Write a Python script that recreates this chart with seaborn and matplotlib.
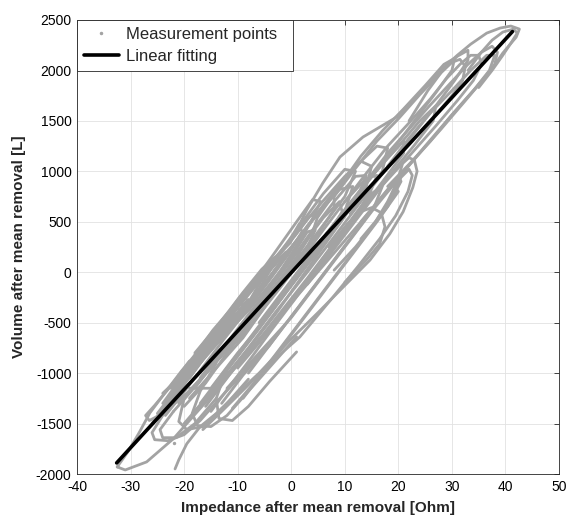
import matplotlib
matplotlib.use("Agg")
import matplotlib.pyplot as plt
import seaborn as sns
import pandas as pd
from matplotlib.lines import Line2D

# ---------------- data ----------------
x_ticks = [-40, -30, -20, -10, 0, 10, 20, 30, 40, 50]
y_ticks = [-2000, -1500, -1000, -500, 0, 500, 1000, 1500, 2000, 2500]
series_labels = ["Measurement points", "Linear fitting"]
x_label = "Impedance after mean removal [Ohm]"
y_label = "Volume after mean removal [L]"

fit_x = [-32.6, 41.3]
fit_y = [-1890, 2385]

stray_x = [-21.9]
stray_y = [-1693]

trace_01 = [(-32.5, -1930), (-30.5, -1780), (-28.5, -1600), (-26.4, -1395), (-24.5, -1260),
            (-23.2, -1167), (-20.5, -980), (-18.3, -840), (-14.6, -573), (-11.4, -375),
            (-9.6, -246), (-5.3, 22), (-0.2, 290), (2.9, 617), (5.9, 884), (9.1, 1142),
            (13.4, 1340), (19.7, 1538), (24.0, 1780), (28.5, 2030), (31.0, 2150),
            (33.5, 2260), (36.5, 2370), (39.0, 2420), (41.0, 2440), (42.6, 2410),
            (42.0, 2330), (39.5, 2172), (37.3, 2004), (34.5, 1830), (30.0, 1560),
            (25.0, 1250), (20.0, 930), (14.0, 560), (8.0, 190), (2.0, -180), (-4.0, -550),
            (-10.0, -920), (-16.0, -1290), (-22.0, -1650), (-27.0, -1880), (-31.0, -1960),
            (-32.5, -1930)]
trace_02 = [(-21.7, -1950), (-21.0, -1860), (-19.5, -1700), (-17.0, -1530), (-14.0, -1400),
            (-11.4, -1267), (-6.0, -1000), (-0.2, -672), (5.0, -400), (10.4, -110),
            (14.7, 120), (18.4, 380), (20.9, 600), (22.7, 840), (23.5, 1000), (23.0, 1110),
            (22.0, 1135), (20.8, 1080), (19.8, 900), (18.0, 700), (15.5, 480), (12.0, 250),
            (8.0, 20)]
trace_03 = [(-16.5, -1560), (-13.0, -1380), (-9.0, -1170), (-3.5, -880), (1.6, -642),
            (7.8, -246), (12.5, 60), (16.5, 330), (19.5, 560), (21.8, 800), (22.6, 960),
            (22.0, 1020), (20.5, 940), (18.5, 720), (16.0, 520), (13.0, 330)]
trace_04 = [(7.0, 250), (10.5, 480), (13.0, 600), (15.0, 640), (16.8, 590), (17.5, 450),
            (16.5, 280), (14.0, 120), (10.0, -100)]
trace_05 = [(-19.0, -880), (-22.5, -1130), (-25.5, -1320), (-27.2, -1420), (-26.5, -1470),
            (-24.0, -1400), (-19.5, -1200), (-15.0, -950), (-10.0, -650)]
trace_06 = [(-17.0, -820), (-21.0, -1150), (-24.0, -1420), (-26.0, -1590), (-25.5, -1660),
            (-23.0, -1670), (-20.0, -1610), (-17.0, -1470), (-13.5, -1260), (-9.0, -1000),
            (-4.0, -720)]
trace_07 = [(-14.0, -900), (-17.0, -1180), (-18.5, -1400), (-17.5, -1520), (-15.0, -1530),
            (-12.0, -1420), (-8.0, -1180), (-3.0, -880), (1.0, -640)]
trace_08 = [(-12.0, -950), (-14.0, -1250), (-13.5, -1450), (-11.0, -1470), (-8.0, -1330),
            (-4.0, -1080), (1.0, -790)]
trace_09 = [(10.0, 700), (14.0, 980), (18.0, 1250), (22.0, 1480), (26.0, 1720), (29.0, 1920),
            (31.5, 2060), (33.5, 2150), (35.0, 2150), (35.5, 2060), (34.0, 1900), (31.0, 1700),
            (27.0, 1450), (22.0, 1150), (17.0, 860), (12.0, 560)]
trace_10 = [(14.0, 900), (18.0, 1180), (22.0, 1420), (26.0, 1660), (30.0, 1890), (33.0, 2060),
            (35.5, 2180), (37.5, 2240), (38.5, 2180), (38.0, 2060), (36.0, 1920), (32.5, 1700),
            (28.0, 1420), (23.0, 1120), (18.0, 820), (13.0, 500)]
trace_11 = [(22.0, 1500), (25.5, 1800), (28.0, 1980), (30.0, 2080), (31.5, 2110), (32.5, 2040),
            (32.0, 1900), (30.0, 1750), (27.0, 1560)]
trace_12 = [(33.0, 2000), (35.5, 2180), (37.5, 2300), (39.5, 2380), (41.5, 2410), (42.2, 2370),
            (41.0, 2270), (39.5, 2150), (37.5, 2000), (35.0, 1830)]
trace_13 = [(-25.0, -1400), (-20.0, -1050), (-15.0, -700), (-10.0, -350), (-5.0, 0), (0.0, 330),
            (5.0, 650), (10.0, 950), (13.0, 1100), (15.0, 1050), (14.0, 850), (9.0, 480),
            (4.0, 150), (-1.0, -200), (-6.0, -560), (-11.0, -900), (-16.0, -1250), (-20.0, -1500)]
trace_14 = [(-22.0, -1250), (-17.0, -900), (-12.0, -560), (-7.0, -250), (-2.0, 100), (3.0, 460),
            (8.0, 800), (12.0, 1050), (16.0, 1250), (18.0, 1230), (17.0, 1000), (13.0, 700),
            (8.0, 350), (3.0, 0), (-3.0, -400), (-8.0, -750), (-13.0, -1080), (-18.0, -1380)]
trace_15 = [(-20.0, -1000), (-13.0, -650), (-8.0, -300), (-4.0, 60), (1.0, 420), (6.0, 780),
            (10.0, 1020), (12.0, 1000), (10.0, 750), (5.0, 400), (0.0, 50), (-5.0, -300),
            (-10.0, -650), (-16.0, -1000), (-21.0, -1300)]
trace_16 = [(-18.0, -800), (-12.0, -420), (-6.0, -100), (0.0, 250), (5.0, 580), (9.0, 820),
            (11.5, 850), (10.0, 600), (5.5, 250), (0.5, -100), (-4.5, -450), (-10.0, -800),
            (-15.0, -1150), (-19.0, -1150)]
trace_17 = [(-24.0, -1200), (-20.0, -1000), (-16.0, -780), (-11.0, -450), (-6.0, -200),
            (-2.0, 100), (-1.0, 200), (-3.0, 100), (-7.0, -250), (-12.0, -600), (-17.0, -900),
            (-22.0, -1180)]
trace_18 = [(-8.0, -1000), (-3.0, -650), (2.0, -300), (7.0, 50), (12.0, 400), (17.0, 750),
            (20.0, 950), (20.5, 900), (18.0, 650), (13.0, 300), (8.0, -50), (3.0, -400),
            (-2.0, -750), (-7.0, -1100), (-11.0, -1350)]
trace_19 = [(-12.0, -1150), (-6.0, -800), (0.0, -450), (5.0, -100), (10.0, 250), (15.0, 600),
            (19.0, 860), (20.0, 800), (16.0, 500), (11.0, 150), (6.0, -200), (1.0, -550),
            (-4.0, -900), (-9.0, -1250)]
trace_20 = [(5.0, 550), (9.0, 850), (13.0, 1150), (17.0, 1400), (21.0, 1620), (25.0, 1850),
            (28.5, 2060), (30.5, 2120), (30.0, 2000), (27.0, 1780), (23.0, 1500), (19.0, 1220),
            (15.0, 950), (10.5, 650), (6.5, 380)]
trace_21 = [(-21.0, -1100), (-16.0, -820), (-12.0, -600), (-8.0, -380), (-4.0, -120), (0.0, 150),
            (3.0, 400), (4.5, 420), (3.0, 250), (-1.0, -50), (-5.0, -350), (-9.0, -650),
            (-14.0, -950), (-19.0, -1250)]
trace_22 = [(-15.0, -640), (-10.0, -300), (-6.5, -60), (-3.0, 200), (1.0, 500), (4.0, 720),
            (5.5, 700), (3.5, 480), (0.0, 180), (-4.0, -150), (-8.0, -450), (-13.0, -800),
            (-17.0, -1050)]
trace_23 = [(-23.0, -1250), (-19.0, -950), (-15.0, -680), (-11.0, -420), (-7.0, -160),
            (-3.0, 120), (1.0, 380), (3.5, 560), (5.0, 560), (4.0, 400), (1.0, 150), (-3.0, -130),
            (-7.0, -400), (-11.0, -680), (-15.0, -950), (-19.0, -1200), (-22.0, -1380)]
trace_24 = [(-19.0, -1050), (-15.0, -760), (-10.0, -460), (-6.0, -180), (-2.0, 90), (2.0, 380),
            (6.0, 660), (8.0, 760), (8.0, 620), (5.0, 380), (1.0, 100), (-3.0, -200), (-7.0, -480),
            (-12.0, -800), (-16.0, -1100), (-20.0, -1330)]
trace_25 = [(-17.0, -1050), (-12.0, -700), (-8.0, -420), (-4.0, -150), (0.0, 120), (4.0, 420),
            (8.0, 700), (12.0, 950), (14.0, 960), (12.5, 760), (9.0, 480), (5.0, 180), (1.0, -120),
            (-3.0, -420), (-8.0, -760), (-12.0, -1050), (-16.0, -1330)]
trace_26 = [(-26.0, -1500), (-22.0, -1200), (-18.0, -930), (-14.0, -650), (-10.0, -400),
            (-8.0, -270), (-9.0, -330), (-13.0, -620), (-17.0, -900), (-21.0, -1180),
            (-25.0, -1450)]
trace_27 = [(-10.0, -700), (-6.0, -420), (-2.0, -150), (2.0, 130), (6.0, 420), (10.0, 700),
            (14.0, 930), (16.0, 960), (14.5, 760), (10.5, 470), (6.5, 180), (2.5, -110),
            (-1.5, -400), (-6.0, -700), (-10.0, -950)]
trace_28 = [(-14.0, -1150), (-9.0, -850), (-5.0, -600), (-1.0, -330), (3.0, -60), (7.0, 220),
            (11.0, 500), (15.0, 780), (17.0, 850), (15.5, 650), (12.0, 400), (8.0, 120),
            (4.0, -160), (0.0, -440), (-4.0, -720), (-9.0, -1020), (-13.0, -1300)]
trace_29 = [(8.0, 750), (12.0, 1030), (16.0, 1300), (20.0, 1520), (24.0, 1760), (28.0, 1980),
            (31.0, 2140), (33.0, 2200), (33.0, 2100), (30.5, 1900), (27.0, 1650), (23.0, 1380),
            (19.0, 1110), (15.0, 840), (11.0, 580)]
trace_30 = [(18.0, 1050), (22.0, 1330), (26.0, 1580), (30.0, 1800), (33.5, 2000), (36.5, 2150),
            (38.0, 2150), (37.0, 2000), (34.0, 1800), (30.0, 1560), (26.0, 1300), (22.0, 1070),
            (18.0, 850)]
trace_31 = [(-22.0, -1380), (-24.5, -1560), (-24.0, -1640), (-21.5, -1640), (-18.0, -1500),
            (-14.0, -1250)]
trace_32 = [(-20.0, -1250), (-21.0, -1480), (-19.5, -1560), (-16.5, -1530), (-12.5, -1330),
            (-8.0, -1060)]
trace_33 = [(-24.0, -1300), (-21.0, -1080), (-17.0, -800), (-13.0, -520), (-9.0, -260),
            (-5.0, 20), (-0.5, 300), (1.5, 480), (2.0, 400), (-0.5, 180), (-4.5, -110),
            (-8.5, -390), (-12.5, -660), (-16.5, -940), (-20.5, -1220), (-23.5, -1420)]
trace_34 = [(-18.0, -1150), (-14.0, -860), (-10.0, -580), (-6.0, -300), (-2.0, -20), (2.0, 260),
            (6.0, 540), (9.0, 700), (9.5, 600), (7.0, 380), (3.0, 100), (-1.0, -180), (-5.0, -460),
            (-9.0, -740), (-13.0, -1020), (-17.0, -1300)]
trace_35 = [(-15.0, -1200), (-11.0, -900), (-7.0, -620), (-3.0, -340), (1.0, -60), (5.0, 230),
            (9.0, 520), (13.0, 800), (14.5, 800), (12.5, 580), (8.5, 300), (4.5, 10), (0.5, -280),
            (-3.5, -560), (-7.5, -850), (-11.5, -1130), (-15.0, -1380)]
trace_36 = [(-21.0, -1050), (-17.0, -760), (-13.0, -480), (-9.0, -200), (-5.5, 30), (-3.0, 150),
            (-4.0, 60), (-7.5, -150), (-11.5, -420), (-15.5, -700), (-19.5, -980), (-22.5, -1150)]
trace_37 = [(0.0, -100), (4.0, 180), (8.0, 460), (12.0, 740), (16.0, 1010), (20.0, 1250),
            (24.0, 1500), (27.0, 1650), (26.5, 1500), (23.0, 1260), (19.0, 1000), (15.0, 720),
            (11.0, 440), (7.0, 160), (3.0, -120)]
trace_38 = [(-6.0, -500), (-2.0, -220), (2.0, 60), (6.0, 340), (10.0, 620), (14.0, 890),
            (18.0, 1130), (21.0, 1300), (21.0, 1180), (17.5, 930), (13.5, 650), (9.5, 370),
            (5.5, 90), (1.5, -190), (-2.5, -470)]

traces = [trace_01, trace_02, trace_03, trace_04, trace_05, trace_06, trace_07, trace_08,
          trace_09, trace_10, trace_11, trace_12, trace_13, trace_14, trace_15, trace_16,
          trace_17, trace_18, trace_19, trace_20, trace_21, trace_22, trace_23, trace_24,
          trace_25, trace_26, trace_27, trace_28, trace_29, trace_30, trace_31, trace_32,
          trace_33, trace_34, trace_35, trace_36, trace_37, trace_38]

# ---------------- build tables ----------------
rows = []
for i, tr in enumerate(traces):
    for j, (xv, yv) in enumerate(tr):
        rows.append({"trace": i, "order": j, "x": xv, "y": yv})
df_pts = pd.DataFrame(rows)
df_fit = pd.DataFrame({"x": fit_x, "y": fit_y})
df_stray = pd.DataFrame({"x": stray_x, "y": stray_y})

# ---------------- style ----------------
sns.set_style("white")
plt.rcParams["font.family"] = ["Liberation Sans", "DejaVu Sans"]
GRAY = "#a3a3a3"
DARK = "#262626"

fig = plt.figure(figsize=(5.68, 5.15), dpi=100)
ax = fig.add_axes([0.1356, 0.0796, 0.8486, 0.8816])

sns.lineplot(data=df_pts, x="x", y="y", units="trace", estimator=None, sort=False,
             color=GRAY, lw=2.0, legend=False, ax=ax, zorder=2,
             solid_joinstyle="round", solid_capstyle="round")
sns.scatterplot(data=df_stray, x="x", y="y", color=GRAY, s=6, linewidth=0, ax=ax,
                legend=False, zorder=2)
sns.lineplot(data=df_fit, x="x", y="y", color="black", lw=2.6, ax=ax, legend=False,
             zorder=3)

ax.set_xlim(-40, 50)
ax.set_ylim(-2000, 2500)
ax.set_xticks(x_ticks)
ax.set_yticks(y_ticks)
ax.set_xticklabels([str(v) for v in x_ticks])
ax.set_yticklabels([str(v) for v in y_ticks])
ax.grid(True, color="#e2e2e2", lw=0.6)
ax.set_axisbelow(True)
ax.tick_params(direction="in", top=True, right=True, length=3.5, width=0.6,
               colors=DARK, labelsize=10, labelcolor="black", pad=4)
for s in ax.spines.values():
    s.set_color(DARK)
    s.set_linewidth(0.6)

ax.set_xlabel(x_label, fontsize=11, fontweight="bold", labelpad=5)
ax.set_ylabel(y_label, fontsize=11, fontweight="bold", labelpad=7)

handles = [Line2D([], [], ls="none", marker=".", ms=3, color=GRAY),
           Line2D([], [], color="black", lw=2.6)]
leg = ax.legend(handles, series_labels, loc="upper left",
                bbox_to_anchor=(0, 1, 216 / 482, 0), mode="expand",
                borderaxespad=0, frameon=True, fancybox=False, edgecolor=DARK,
                framealpha=1, fontsize=12, handlelength=2.1, handletextpad=0.45,
                borderpad=0.4, labelspacing=0.45)
leg.get_frame().set_linewidth(0.6)

fig.savefig("out.png", dpi=100)
